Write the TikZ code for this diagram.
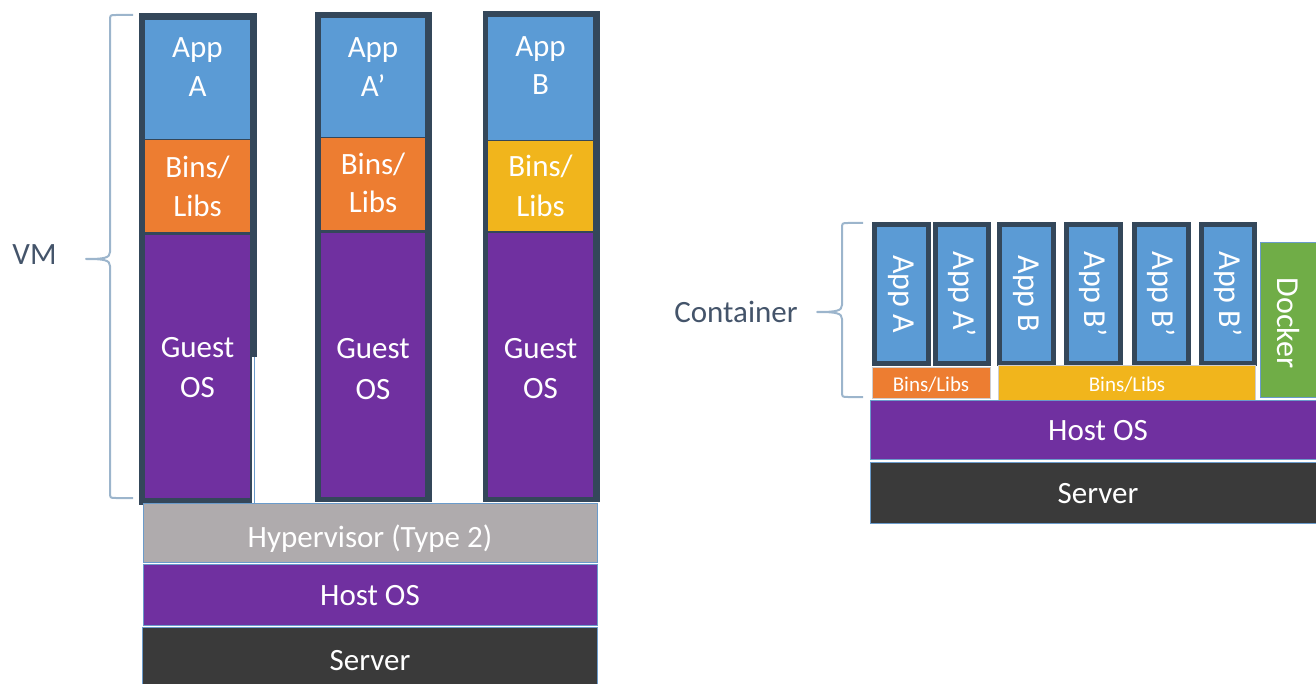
\documentclass[tikz,border=0pt]{standalone}
\usepackage{fontspec}
\setmainfont{Carlito}
\definecolor{appblue}{HTML}{5B9BD5}
\definecolor{binorange}{HTML}{ED7D31}
\definecolor{binyellow}{HTML}{F1B51C}
\definecolor{ospurple}{HTML}{7030A0}
\definecolor{hvgray}{HTML}{AFABAD}
\definecolor{srvdark}{HTML}{3A3A3A}
\definecolor{dockgreen}{HTML}{70AD47}
\definecolor{frame}{HTML}{34475A}
\definecolor{bracecol}{HTML}{9CB5CC}
\definecolor{labelcol}{HTML}{44546A}
\definecolor{rowline}{HTML}{6A9BCB}
\begin{document}
\begin{tikzpicture}[x=1pt,y=-1pt,
  txt/.style={text=white, font=\fontsize{31}{37}\selectfont, inner sep=0pt, anchor=base},
  vtxt/.style={text=white, font=\fontsize{32}{38}\selectfont, inner sep=0pt, rotate=-90},
  stxt/.style={text=white, font=\fontsize{21}{25}\selectfont, inner sep=0pt, anchor=base},
  lbl/.style={text=labelcol, font=\fontsize{31}{37}\selectfont, inner sep=0pt, anchor=base},
  bracepath/.style={draw=bracecol, line width=2pt, line join=round},
  row/.style={draw=rowline, line width=1pt}]
\useasboundingbox (0,0) rectangle (1316,684);

% ---------------- left: virtual machines ----------------
% column 1
\fill[frame] (139,13) rectangle (257,357);
\fill[frame] (139,357) rectangle (252,505);
\draw[rowline, line width=1pt] (254,357) -- (254,503);
\fill[appblue] (145,20) rectangle (250,139);
\fill[binorange] (145,140) rectangle (250,232);
\fill[ospurple] (145,235) rectangle (250,498);
% column 2
\fill[frame] (315,12) rectangle (432,502);
\fill[appblue] (321,18) rectangle (425,137);
\fill[binorange] (321,138) rectangle (425,230);
\fill[ospurple] (321,233) rectangle (425,497);
% column 3
\fill[frame] (483,11) rectangle (600,502);
\fill[appblue] (488,17) rectangle (593,140);
\fill[binyellow] (488,141) rectangle (593,231);
\fill[ospurple] (488,233) rectangle (593,497);

\node[txt] (c1app) at (197.5,58) {App};
\node[txt] (c1a) at (197.5,97) {A};
\node[txt] (c1bins) at (197.5,178) {Bins/};
\node[txt] (c1libs) at (197.5,217) {Libs};
\node[txt] (c1guest) at (197.5,357) {Guest};
\node[txt] (c1os) at (197.5,397) {OS};

\node[txt] (c2app) at (373,58) {App};
\node[txt] (c2a) at (373,97) {A’};
\node[txt] (c2bins) at (373,175) {Bins/};
\node[txt] (c2libs) at (373,213) {Libs};
\node[txt] (c2guest) at (373,358) {Guest};
\node[txt] (c2os) at (373,399) {OS};

\node[txt] (c3app) at (540.5,57) {App};
\node[txt] (c3b) at (540.5,95) {B};
\node[txt] (c3bins) at (540.5,177) {Bins/};
\node[txt] (c3libs) at (540.5,217) {Libs};
\node[txt] (c3guest) at (540.5,358) {Guest};
\node[txt] (c3os) at (540.5,398) {OS};

% base rows
\filldraw[row, fill=hvgray] (143,503) rectangle (597,562);
\filldraw[row, fill=ospurple] (143,564) rectangle (597,625);
\filldraw[row, fill=srvdark] (142,627) rectangle (597,686);
\node[txt] (hyper) at (370,547) {Hypervisor (Type 2)};
\node[txt] (lhost) at (370,605) {Host OS};
\node[txt] (lserver) at (370,670) {Server};

% VM brace and label
\draw[bracepath] (133,15) -- (116,15) .. controls (110,15) .. (110,21) -- (110,252)
  .. controls (110,258) and (104,259) .. (86,259)
  .. controls (104,259) and (110,260) .. (110,266) -- (110,492)
  .. controls (110,498) .. (116,498) -- (133,498);
\node[lbl] (vm) at (34.5,265) {VM};

% ---------------- right: containers ----------------
\foreach \xa/\xb/\nm/\t in {872/931/ca/App A, 933/991/cap/App A’, 997/1056/cb/App B,
    1064/1123/cb1/App B’, 1132/1191/cb2/App B’, 1199/1257/cb3/App B’}{
  \fill[frame] (\xa,222) rectangle (\xb,366);
  \fill[appblue] (\xa+5,227) rectangle (\xb-5,361);
  \node[vtxt] (\nm) at ({(\xa+\xb)/2},294) {\t};
}
\filldraw[draw=rowline, line width=1pt, fill=dockgreen] (1260,243) rectangle (1318,397);
\node[vtxt] (docker) at (1288,323) {Docker};

\filldraw[draw=hvgray!60, line width=0.8pt, fill=binorange] (872,367) rectangle (990,398);
\filldraw[draw=hvgray!60, line width=0.8pt, fill=binyellow] (998,365) rectangle (1255,400);
\node[stxt] (rbins1) at (931,391) {Bins/Libs};
\node[stxt] (rbins2) at (1127,391) {Bins/Libs};

\filldraw[row, fill=ospurple] (870,400) rectangle (1318,459);
\filldraw[row, fill=srvdark] (870,462) rectangle (1318,523);
\node[txt] (rhost) at (1098,440) {Host OS};
\node[txt] (rserver) at (1098,503) {Server};

% Container brace and label
\draw[bracepath] (863,223) -- (848,223) .. controls (842,223) .. (842,229) -- (842,305)
  .. controls (842,311) and (836,312) .. (817,312)
  .. controls (836,312) and (842,313) .. (842,319) -- (842,391)
  .. controls (842,397) .. (848,397) -- (863,397);
\node[lbl] (container) at (736,323) {Container};
\end{tikzpicture}
\end{document}
